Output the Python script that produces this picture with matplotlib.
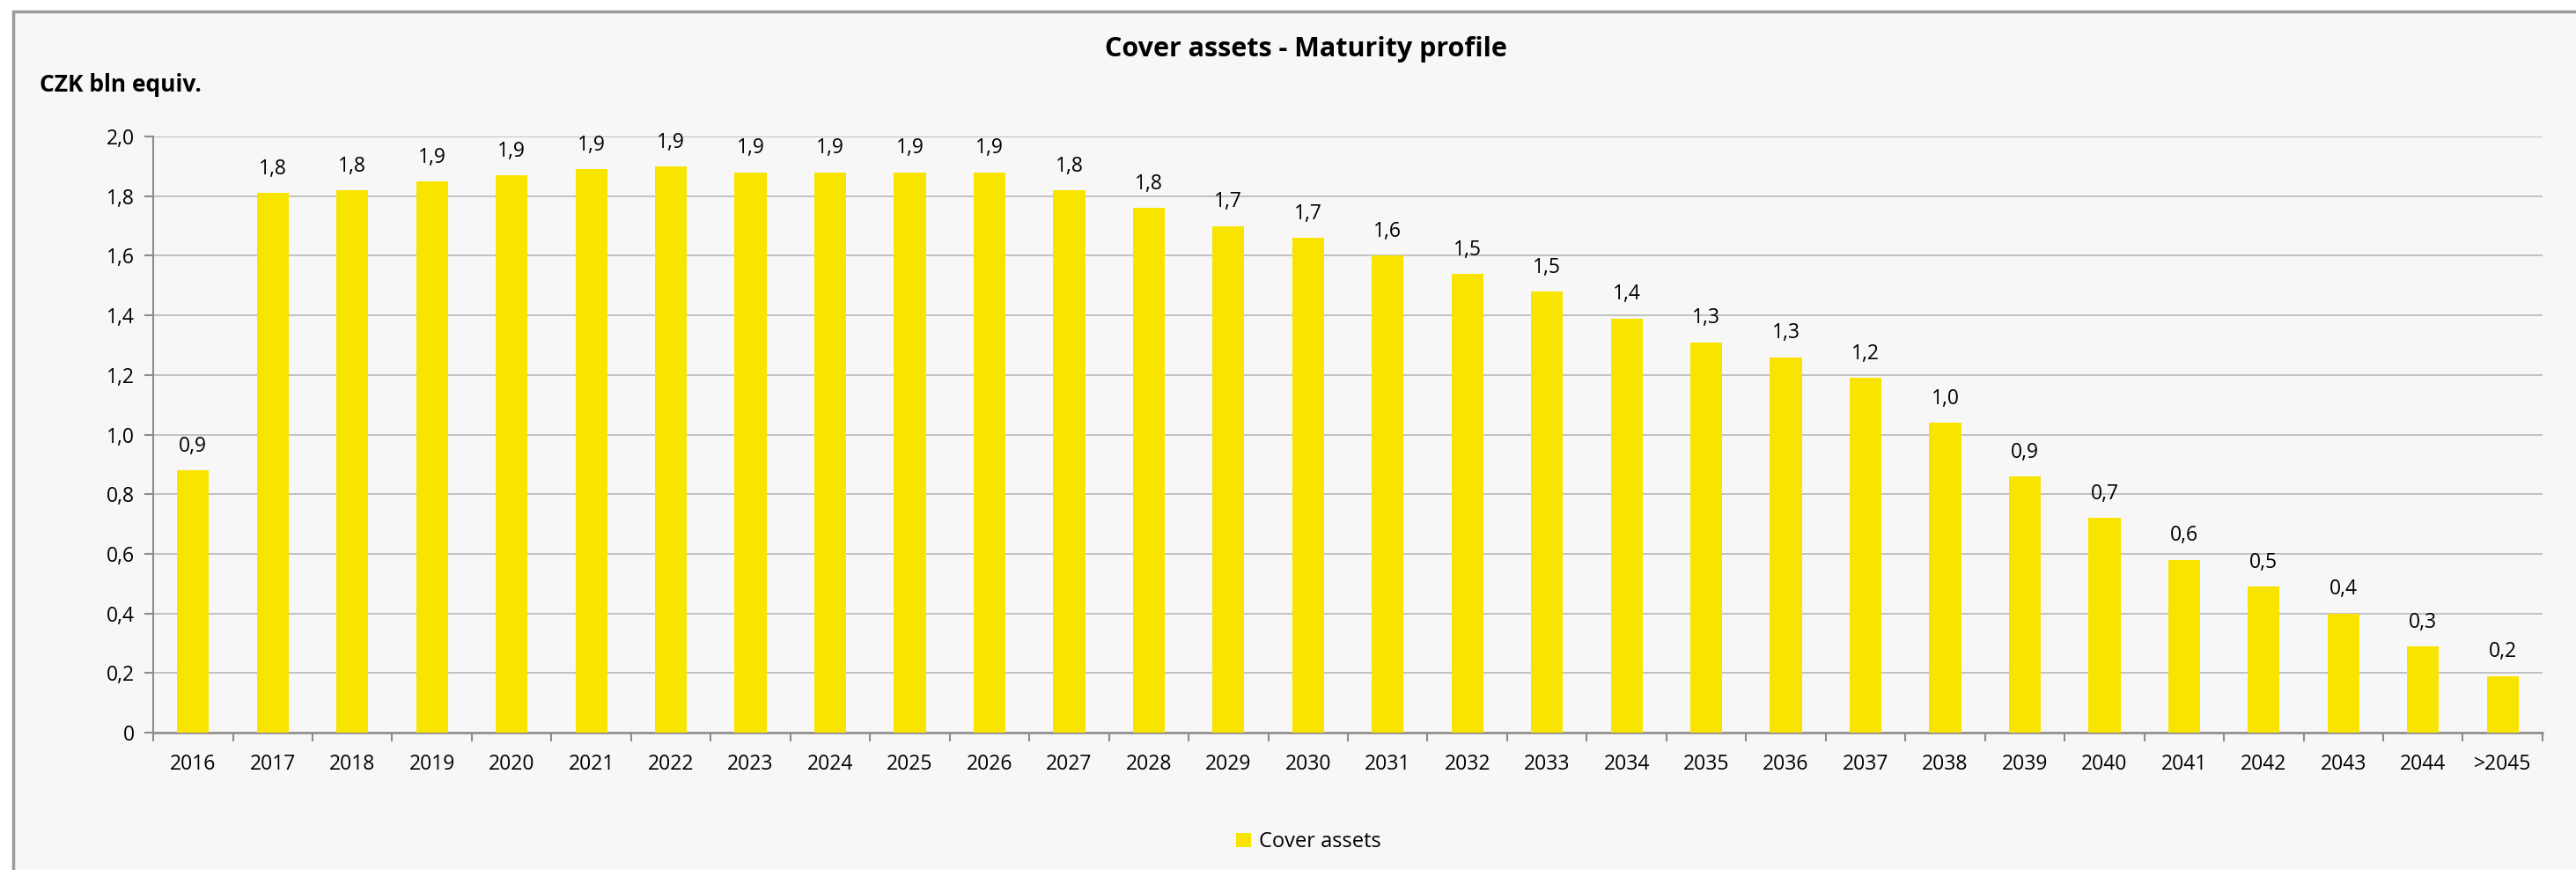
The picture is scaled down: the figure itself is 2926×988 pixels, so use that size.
"""
Cover assets - Maturity profile (bar chart)
"""
import matplotlib
matplotlib.use('Agg')
import matplotlib.pyplot as plt
from matplotlib.patches import Rectangle
from matplotlib.ticker import FuncFormatter, MultipleLocator

# ==================== data ====================
YEARS = ['2016', '2017', '2018', '2019', '2020', '2021', '2022', '2023', '2024', '2025',
         '2026', '2027', '2028', '2029', '2030', '2031', '2032', '2033', '2034', '2035',
         '2036', '2037', '2038', '2039', '2040', '2041', '2042', '2043', '2044', '>2045']
COVER_ASSETS = [0.88, 1.81, 1.82, 1.85, 1.87, 1.89, 1.90, 1.88, 1.88, 1.88,
                1.88, 1.82, 1.76, 1.70, 1.66, 1.60, 1.54, 1.48, 1.39, 1.31,
                1.26, 1.19, 1.04, 0.86, 0.72, 0.58, 0.49, 0.40, 0.29, 0.19]

YELLOW = '#F9E400'
BG = '#F7F7F7'
GRID = '#BDBDBD'
AXIS = '#8C8C8C'
FONT = ['Open Sans', 'DejaVu Sans']


def comma(v, pos=None):
    if abs(v) < 1e-9:
        return '0'
    return f'{v:.1f}'.replace('.', ',')


fig = plt.figure(figsize=(29.26, 9.88), dpi=100)
fig.patch.set_facecolor('white')

# outer chart frame (drawn behind the axes, runs off the right and bottom edges)
frame = Rectangle((15 / 2926, -0.05), 1.05, 1.05 - 13 / 988,
                  transform=fig.transFigure, facecolor=BG,
                  edgecolor='#9A9A9A', lw=2.5, zorder=-10)
fig.patches.append(frame)

ax = fig.add_axes([0.0595, 0.158, 0.9275, 0.685])
ax.set_facecolor(BG)
ax.set_zorder(1)

x = range(len(YEARS))
bars = ax.bar(x, COVER_ASSETS, width=0.4, color=YELLOW, zorder=3, label='Cover assets')
for xi, v in zip(x, COVER_ASSETS):
    ax.text(xi, v + 0.045, comma(round(v, 1)), ha='center', va='bottom',
            fontsize=16.5, family=FONT, color='black')

ax.set_xlim(-0.5, len(YEARS) - 0.5)
ax.set_ylim(0, 2.0)
ax.yaxis.set_major_locator(MultipleLocator(0.2))
ax.yaxis.set_major_formatter(FuncFormatter(comma))
ax.set_xticks(list(x))
ax.set_xticklabels(YEARS, family=FONT, fontsize=16.5)
ax.set_xticks([i - 0.5 for i in range(len(YEARS) + 1)], minor=True)
ax.tick_params(axis='x', which='major', length=0, pad=17)
ax.tick_params(axis='x', which='minor', length=7, width=1.5, color=AXIS)
ax.tick_params(axis='y', length=7, width=1.5, color=AXIS, labelsize=16.5, pad=8)
for lab in ax.get_yticklabels():
    lab.set_family(FONT)

ax.grid(axis='y', color=GRID, lw=1.3, zorder=0)
ax.set_axisbelow(True)
for side in ['top', 'right']:
    ax.spines[side].set_visible(False)
ax.spines['left'].set_color(AXIS)
ax.spines['bottom'].set_color(AXIS)
ax.spines['left'].set_linewidth(1.5)
ax.spines['bottom'].set_linewidth(1.8)

fig.text(0.507, 0.943, 'Cover assets - Maturity profile', ha='center', va='center',
         fontsize=22, fontweight='bold', family=FONT)
fig.text(0.0154, 0.902, 'CZK bln equiv.', ha='left', va='center',
         fontsize=19, fontweight='bold', family=FONT)

fig.legend(handles=[bars], labels=['Cover assets'], loc='center',
           bbox_to_anchor=(0.508, 0.032), frameon=False,
           handlelength=0.7, handleheight=0.7, handletextpad=0.4,
           prop={'family': FONT, 'size': 17})

fig.savefig('out.png', dpi=100, facecolor=fig.get_facecolor())
